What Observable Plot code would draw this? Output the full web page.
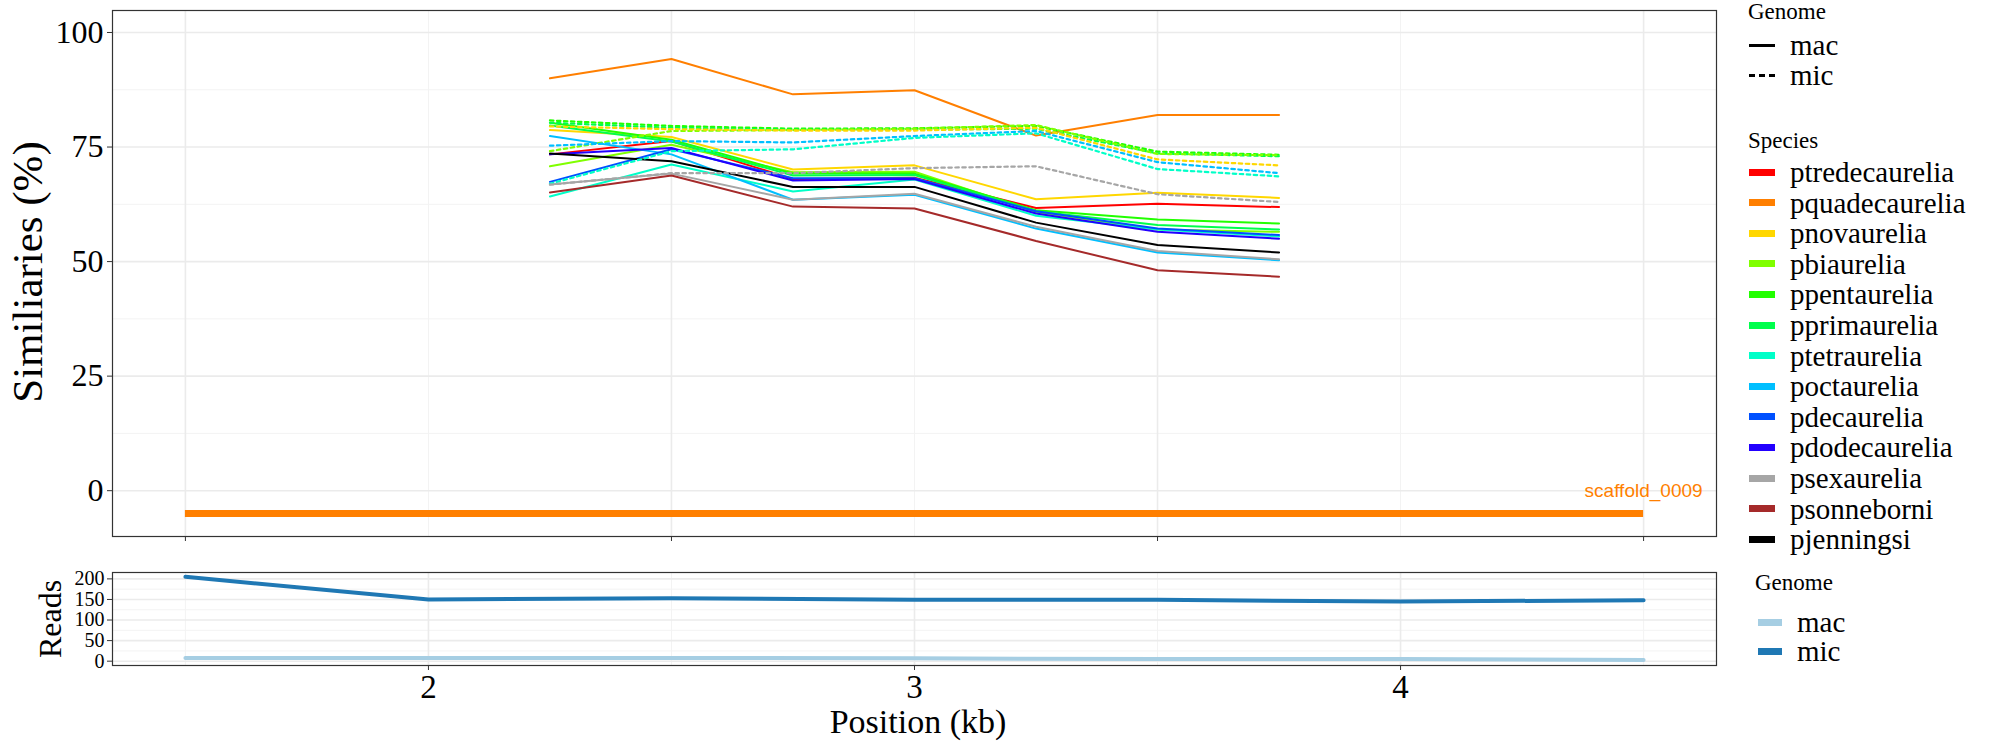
<!DOCTYPE html>
<html>
<head>
<meta charset="utf-8">
<script src="https://cdn.jsdelivr.net/npm/d3@7"></script>
<script src="https://cdn.jsdelivr.net/npm/@observablehq/plot@0.6"></script>
<style>
  body { margin: 0; background: #fff; }
  #root { position: relative; width: 2000px; height: 750px; overflow: hidden; font-family: "Liberation Serif", "DejaVu Serif", serif; color: #000; }
  .abs { position: absolute; white-space: nowrap; }
  .plot { position: absolute; left: 0; }
  .legrow { position: absolute; display: flex; align-items: center; white-space: nowrap; }
</style>
</head>
<body>
<div id="root"></div>
<script>
// ---------- data ----------
const positions = [2.25, 2.5, 2.75, 3.0, 3.25, 3.5, 3.75];
const speciesNames = ["ptredecaurelia", "pquadecaurelia", "pnovaurelia", "pbiaurelia", "ppentaurelia", "pprimaurelia", "ptetraurelia", "poctaurelia", "pdecaurelia", "pdodecaurelia", "psexaurelia", "psonneborni", "pjenningsi"];
const speciesColors = ["#FF0000", "#FF7F00", "#FFD700", "#80FF00", "#22FF00", "#00FF4C", "#00FFC8", "#00BFFF", "#0050FF", "#2200FF", "#A6A6A6", "#A52A2A", "#000000"];
const genomes = ["mac", "mic"];

// mac (solid) similarity, %
const mac_ptredecaurelia = [73.4, 76.3, 68.0, 68.3, 61.7, 62.6, 61.9];
const mac_pquadecaurelia = [90.0, 94.2, 86.5, 87.4, 77.5, 82.0, 82.0];
const mac_pnovaurelia    = [78.7, 77.2, 70.1, 71.0, 63.6, 65.0, 63.9];
const mac_pbiaurelia     = [70.8, 75.5, 69.5, 69.6, 60.8, 57.0, 56.5];
const mac_ppentaurelia   = [80.3, 76.6, 69.2, 69.2, 61.2, 59.2, 58.3];
const mac_pprimaurelia   = [79.7, 76.2, 68.8, 68.9, 61.0, 58.0, 57.0];
const mac_ptetraurelia   = [64.2, 71.2, 65.3, 67.9, 60.0, 57.0, 55.5];
const mac_poctaurelia    = [77.4, 73.4, 63.5, 64.6, 57.2, 52.0, 50.3];
const mac_pdecaurelia    = [67.4, 74.5, 68.2, 68.2, 61.0, 57.2, 55.8];
const mac_pdodecaurelia  = [73.4, 74.8, 67.7, 68.0, 60.5, 56.5, 55.0];
const mac_psexaurelia    = [66.8, 69.2, 63.5, 64.8, 57.6, 52.3, 50.5];
const mac_psonneborni    = [65.1, 68.8, 62.0, 61.6, 54.5, 48.1, 46.7];
const mac_pjenningsi     = [73.6, 71.9, 66.3, 66.3, 58.5, 53.6, 52.0];

// mic (dotted) similarity, %
const mic_ppentaurelia = [80.8, 79.6, 79.0, 79.1, 79.6, 74.0, 73.3];
const mic_pprimaurelia = [80.3, 79.2, 78.8, 78.8, 79.0, 73.6, 73.0];
const mic_pbiaurelia   = [74.1, 78.5, 78.7, 79.0, 79.8, 73.5, 73.2];
const mic_pnovaurelia  = [79.5, 78.9, 78.6, 78.6, 79.2, 72.3, 71.0];
const mic_poctaurelia  = [75.3, 76.3, 76.0, 77.4, 78.5, 71.7, 69.3];
const mic_ptetraurelia = [67.0, 74.1, 74.5, 77.0, 78.0, 70.2, 68.6];
const mic_psexaurelia  = [66.8, 69.3, 69.3, 70.4, 70.8, 64.7, 63.0];

// scaffold bar
const scaffoldName = "scaffold_0009";
const scaffoldStart = 1.5;
const scaffoldEnd = 4.5;
const scaffoldLevel = -5;
const scaffoldLabelY = 0;
const scaffoldColor = "#FF7F00";

// reads panel
const readPositions = [1.5, 2, 2.5, 3, 3.5, 4, 4.5];
const reads_mac = [8, 8, 8, 7, 5, 5, 3];
const reads_mic = [205, 150, 153, 149, 149, 145, 148];
const readsColors = ["#A6CEE3", "#1F78B4"];

// ticks and grid
const simTicks = [0, 25, 50, 75, 100];
const simMinor = [12.5, 37.5, 62.5, 87.5];
const topXTicks = [1.5, 2.5, 3.5, 4.5];
const topXMinor = [2, 3, 4];
const readsTicks = [0, 50, 100, 150, 200];
const readsMinor = [25, 75, 125, 175];
const bottomXTicks = [2, 3, 4];
const bottomXMinor = [1.5, 2.5, 3.5, 4.5];
const xDomain = [1.35, 4.65];
const simDomain = [-10, 104.8];
const readsDomain = [-10.5, 215.5];

// ---------- build tables ----------
const macTable = {
  ptredecaurelia: mac_ptredecaurelia, pquadecaurelia: mac_pquadecaurelia, pnovaurelia: mac_pnovaurelia,
  pbiaurelia: mac_pbiaurelia, ppentaurelia: mac_ppentaurelia, pprimaurelia: mac_pprimaurelia,
  ptetraurelia: mac_ptetraurelia, poctaurelia: mac_poctaurelia, pdecaurelia: mac_pdecaurelia,
  pdodecaurelia: mac_pdodecaurelia, psexaurelia: mac_psexaurelia, psonneborni: mac_psonneborni,
  pjenningsi: mac_pjenningsi
};
const micTable = {
  ppentaurelia: mic_ppentaurelia, pprimaurelia: mic_pprimaurelia, pbiaurelia: mic_pbiaurelia,
  pnovaurelia: mic_pnovaurelia, poctaurelia: mic_poctaurelia, ptetraurelia: mic_ptetraurelia,
  psexaurelia: mic_psexaurelia
};
function rows(table, genome) {
  const out = [];
  for (const sp of Object.keys(table)) {
    table[sp].forEach((v, i) => out.push({x: positions[i], y: v, species: sp, genome}));
  }
  return out;
}
const macRows = rows(macTable, "mac");
const micRows = rows(micTable, "mic");
const readRows = [];
readPositions.forEach((p, i) => readRows.push({x: p, y: reads_mac[i], genome: "mac"}));
readPositions.forEach((p, i) => readRows.push({x: p, y: reads_mic[i], genome: "mic"}));
const scaffoldRows = [{x1: scaffoldStart, x2: scaffoldEnd, y: scaffoldLevel, ly: scaffoldLabelY, name: scaffoldName}];

const root = document.getElementById("root");
const minorGrid = "#F3F3F3", majorGrid = "#EBEBEB", frameColor = "#333333";
const serif = "Liberation Serif";

// ---------- top panel ----------
const topPlot = Plot.plot({
  width: 1730, height: 560,
  marginLeft: 112, marginRight: 14, marginTop: 10, marginBottom: 24,
  x: {domain: xDomain},
  y: {domain: simDomain},
  color: {domain: speciesNames, range: speciesColors},
  style: {fontFamily: serif, background: "transparent", color: "#000", overflow: "visible"},
  marks: [
    Plot.ruleY(simMinor, {stroke: minorGrid, strokeWidth: 1}),
    Plot.ruleX(topXMinor, {stroke: minorGrid, strokeWidth: 1}),
    Plot.ruleY(simTicks, {stroke: majorGrid, strokeWidth: 1.6}),
    Plot.ruleX(topXTicks, {stroke: majorGrid, strokeWidth: 1.6}),
    Plot.ruleY(scaffoldRows, {x1: "x1", x2: "x2", y: "y", stroke: scaffoldColor, strokeWidth: 7}),
    Plot.text(scaffoldRows, {x: "x2", y: "ly", text: "name", fill: scaffoldColor, fontSize: 19, fontFamily: "Liberation Sans", textAnchor: "middle"}),
    Plot.line(macRows, {x: "x", y: "y", z: "species", stroke: "species", strokeWidth: 2}),
    Plot.line(micRows, {x: "x", y: "y", z: "species", stroke: "species", strokeWidth: 2.2, strokeDasharray: "3.5,3.5"}),
    Plot.frame({stroke: frameColor, strokeWidth: 1.2}),
    Plot.axisY(simTicks, {tickSize: 5, tickPadding: 4, fontSize: 32, fontFamily: serif, label: null, stroke: frameColor, tickFormat: d => String(d)}),
    Plot.axisX(topXTicks, {tickSize: 5, tickFormat: () => "", label: null, stroke: frameColor})
  ]
});
topPlot.classList.add("plot");
topPlot.style.top = "0px";
root.appendChild(topPlot);

// ---------- bottom panel ----------
const bottomPlot = Plot.plot({
  width: 1730, height: 190,
  marginLeft: 112, marginRight: 14, marginTop: 12, marginBottom: 85,
  x: {domain: xDomain},
  y: {domain: readsDomain},
  color: {domain: genomes, range: readsColors},
  style: {fontFamily: serif, background: "transparent", color: "#000", overflow: "visible"},
  marks: [
    Plot.ruleY(readsMinor, {stroke: minorGrid, strokeWidth: 1}),
    Plot.ruleX(bottomXMinor, {stroke: minorGrid, strokeWidth: 1}),
    Plot.ruleY(readsTicks, {stroke: majorGrid, strokeWidth: 1.6}),
    Plot.ruleX(bottomXTicks, {stroke: majorGrid, strokeWidth: 1.6}),
    Plot.line(readRows, {x: "x", y: "y", z: "genome", stroke: "genome", strokeWidth: 4}),
    Plot.frame({stroke: frameColor, strokeWidth: 1.2}),
    Plot.axisY(readsTicks, {tickSize: 5, tickPadding: 3, fontSize: 20, fontFamily: serif, label: null, stroke: frameColor, tickFormat: d => String(d)}),
    Plot.axisX(bottomXTicks, {tickSize: 5, tickPadding: 4, fontSize: 33, fontFamily: serif, label: null, stroke: frameColor, tickFormat: d => String(d)})
  ]
});
bottomPlot.classList.add("plot");
bottomPlot.style.top = "560px";
root.appendChild(bottomPlot);

// ---------- titles ----------
function addText(txt, css) {
  const d = document.createElement("div");
  d.className = "abs";
  d.textContent = txt;
  Object.assign(d.style, css);
  root.appendChild(d);
  return d;
}
addText("Similiaries (%)", {left: "27px", top: "272px", fontSize: "43px", lineHeight: "43px", transform: "translate(-50%,-50%) rotate(-90deg)"});
addText("Reads", {left: "50px", top: "619px", fontSize: "32px", lineHeight: "32px", transform: "translate(-50%,-50%) rotate(-90deg)"});
addText("Position (kb)", {left: "918px", top: "722px", fontSize: "34px", lineHeight: "34px", transform: "translate(-50%,-50%)"});

// ---------- legends ----------
function legendRow(label, y, x0, swatchCss, textX, fontSize) {
  const row = document.createElement("div");
  row.className = "legrow";
  row.style.left = x0 + "px";
  row.style.top = (y - 20) + "px";
  row.style.height = "40px";
  const sw = document.createElement("div");
  Object.assign(sw.style, swatchCss);
  row.appendChild(sw);
  const t = document.createElement("span");
  t.textContent = label;
  t.style.fontSize = fontSize + "px";
  t.style.position = "absolute";
  t.style.left = (textX - x0) + "px";
  t.style.lineHeight = "40px";
  t.style.top = "0px";
  row.appendChild(t);
  root.appendChild(row);
}
addText("Genome", {left: "1748px", top: "0px", fontSize: "23px", lineHeight: "23px"});
legendRow("mac", 45, 1749, {width: "26px", height: "0px", borderTop: "3px solid #000"}, 1790, 29);
legendRow("mic", 75, 1749, {width: "26px", height: "0px", borderTop: "3px dashed #000"}, 1790, 29);
addText("Species", {left: "1748px", top: "140px", fontSize: "23px", lineHeight: "23px", transform: "translateY(-50%)"});
speciesNames.forEach((sp, i) => {
  legendRow(sp, 172 + i * 30.6, 1749, {width: "26px", height: "7px", background: speciesColors[i]}, 1790, 29);
});
addText("Genome", {left: "1755px", top: "582px", fontSize: "23px", lineHeight: "23px", transform: "translateY(-50%)"});
genomes.forEach((g, i) => {
  legendRow(g, 622 + i * 29, 1758, {width: "24px", height: "7px", background: readsColors[i]}, 1797, 29);
});
</script>
</body>
</html>
